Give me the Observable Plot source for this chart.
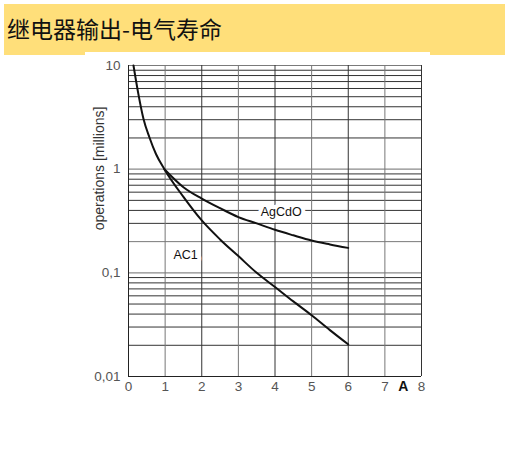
<!DOCTYPE html>
<html><head><meta charset="utf-8">
<script src="https://cdn.jsdelivr.net/npm/d3@7"></script>
<script src="https://cdn.jsdelivr.net/npm/@observablehq/plot@0.6"></script>
<style>
body{margin:0;background:#fff;width:509px;height:449px;position:relative;overflow:hidden;font-family:"Liberation Sans",Arial,sans-serif;}
#banner{position:absolute;left:4px;top:4px;width:501px;height:51px;background:#FFDF7A;}
#title{position:absolute;left:7px;top:12px;font-size:23px;font-family:"Noto Sans CJK SC",sans-serif;color:#111;line-height:32px;white-space:nowrap;}
#chart{position:absolute;left:85px;top:52px;}
</style></head><body>
<div id="banner"></div>
<div id="title">继电器输出-电气寿命</div>
<div id="chart"></div>
<script>
const titleText = "继电器输出-电气寿命";
const yLabel = "operations [millions]";
const xUnit = "A";
const xTicks = [0, 1, 2, 3, 4, 5, 6, 7, 8];
const yTicks = [0.01, 0.1, 1, 10];
const yGrid = [0.02,0.03,0.04,0.05,0.06,0.07,0.08,0.09,
               0.2,0.3,0.4,0.5,0.6,0.7,0.8,0.9,
               2,3,4,5,6,7,8,9,10];
const ac1X = [0.136, 0.27, 0.41, 0.57, 0.75, 0.98, 1.5, 2.0, 2.5, 3.0, 3.5, 4.0, 4.5, 5.0, 5.5, 6.0];
const ac1Y = [10, 5.3, 3.05, 2.03, 1.4, 1.0, 0.54, 0.32, 0.21, 0.145, 0.1, 0.073, 0.053, 0.039, 0.028, 0.0204];
const agX = [0.98, 1.5, 2.0, 2.5, 3.0, 3.5, 4.0, 4.5, 5.0, 5.5, 6.0];
const agY = [1.0, 0.67, 0.52, 0.42, 0.345, 0.3, 0.26, 0.23, 0.205, 0.188, 0.174];
const seriesNames = ["AC1", "AgCdO"];
const labelX = [1.56, 4.17];
const labelY = [0.147, 0.39];

const ac1 = ac1X.map((x, i) => ({x, y: ac1Y[i]}));
const ag = agX.map((x, i) => ({x, y: agY[i]}));
const labels = seriesNames.map((t, i) => ({t, x: labelX[i], y: labelY[i]}));
const fmt = d => String(d).replace(".", ",");

const chart = Plot.plot({
  width: 345, height: 348,
  marginLeft: 43, marginRight: 9, marginTop: 13, marginBottom: 24,
  x: {domain: [0, 8]},
  y: {type: "log", domain: [0.01, 10]},
  style: {fontFamily: "Liberation Sans, Arial, sans-serif", fontSize: "13.5px", background: "white", overflow: "visible"},
  marks: [
    Plot.ruleY(yGrid, {stroke: d => (d === 0.2 || d === 10) ? "#7a7a7a" : "#333", strokeWidth: 1}),
    Plot.ruleY([0.1, 1], {stroke: "#8a8a8a", strokeWidth: 1.2}),
    Plot.ruleX(xTicks, {stroke: d => d % 2 ? "#777" : "#333", strokeWidth: 1}),
    Plot.ruleX([0], {stroke: "#222"}),
    Plot.ruleY([0.01], {stroke: "#222"}),
    Plot.line(ac1, {x: "x", y: "y", curve: "monotone-x", stroke: "#111", strokeWidth: 2}),
    Plot.line(ag, {x: "x", y: "y", curve: "monotone-x", stroke: "#111", strokeWidth: 2}),
    Plot.text(labels, {x: "x", y: "y", text: "t", fill: "#111", stroke: "white", strokeWidth: 8, fontSize: 12.5}),
    Plot.axisX({ticks: xTicks, tickSize: 0, tickPadding: 5, fill: "#555", label: null}),
    Plot.axisY({ticks: yTicks, tickFormat: fmt, tickSize: 0, tickPadding: 8, fill: "#555", label: null}),
    Plot.text([xUnit], {x: [7.5], frameAnchor: "bottom", lineAnchor: "top", dy: 5, fontWeight: "bold", fill: "#111", fontSize: 14}),
    Plot.text([yLabel], {frameAnchor: "top-left", textAnchor: "middle", lineAnchor: "middle", dx: -28.5, dy: 103, rotate: -90, fill: "#333", fontSize: 14})
  ]
});
document.getElementById("chart").append(chart);
</script>
</body></html>
